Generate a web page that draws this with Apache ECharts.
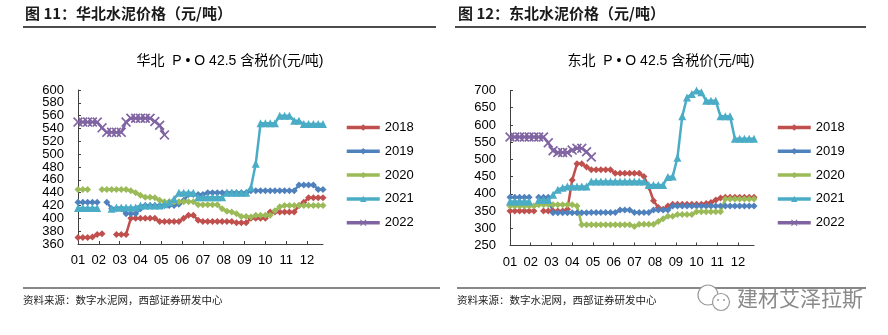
<!DOCTYPE html>
<html>
<head>
<meta charset="utf-8">
<script src="https://cdn.jsdelivr.net/npm/echarts@6/dist/echarts.min.js"></script>
<style>
html,body{margin:0;padding:0;background:#fff}
#c{width:888px;height:335px}
</style>
</head>
<body>
<div id="c"></div>
<script>
// Weekly cement prices (元/吨), one value per week, null = no quote that week
const years = ['2018', '2019', '2020', '2021', '2022'];
const monthLabels = ['01', '02', '03', '04', '05', '06', '07', '08', '09', '10', '11', '12'];

// 华北 P·O 42.5
const huabei2018 = [370,370,370,371,375,376,null,null,375,375,375,400,400,400,400,400,400,395,395,395,395,395,400,405,405,397,395,395,395,395,395,395,395,393,393,393,400,400,400,400,410,410,410,410,410,410,420,425,432,432,432,432];
const huabei2019 = [425,425,425,425,425,null,425,415,415,415,407,407,407,415,420,420,420,420,420,420,420,422,428,437,437,437,437,440,440,440,440,440,440,440,440,440,443,443,443,443,443,443,443,443,443,443,452,452,452,452,445,445];
const huabei2020 = [445,445,445,null,null,445,445,445,445,445,445,443,440,436,433,433,432,428,426,426,426,426,426,426,426,421,421,421,421,421,415,411,410,407,403,403,402,405,405,405,405,412,418,420,420,420,420,420,420,420,420,420];
const huabei2021 = [416,416,416,416,416,null,null,415,417,417,417,417,417,420,420,420,420,420,422,425,430,440,440,440,440,433,433,433,433,433,433,440,440,440,440,440,448,485,548,548,548,548,560,560,560,552,552,547,547,547,547,547];
const huabei2022 = [550,550,550,550,550,541,534,534,534,534,550,556,556,556,556,556,551,545,530];

// 东北 P·O 42.5
const dongbei2018 = [350,350,350,350,350,350,null,350,350,350,350,350,355,440,487,487,478,470,470,470,470,470,460,460,460,460,460,460,450,420,380,360,355,365,370,370,370,370,370,370,370,372,375,382,388,390,390,390,390,390,390,390];
const dongbei2019 = [390,390,390,390,390,null,390,390,390,345,345,345,345,345,345,345,345,346,346,346,346,346,346,353,353,353,346,346,346,346,353,353,353,353,365,365,365,365,365,365,365,365,365,365,365,365,365,365,365,365,365,365];
const dongbei2020 = [365,365,365,365,365,365,368,368,368,368,368,368,368,368,365,310,310,310,310,310,310,310,310,310,310,310,305,312,312,312,312,320,328,335,335,340,340,340,340,348,348,348,348,348,348,385,385,385,385,385,385,385];
const dongbei2021 = [378,378,378,378,378,null,382,382,382,397,412,418,421,421,421,421,421,436,436,436,436,436,436,436,436,436,436,436,436,426,426,426,426,449,450,505,625,680,690,700,695,670,670,670,625,625,625,560,560,560,560,560];
const dongbei2022 = [565,565,565,565,565,565,565,565,548,525,520,520,520,527,532,532,522,507];

const WEEKS = 52;
const WEEKS_PER_MONTH = WEEKS / 12;
const colors = ['#C0504D', '#4F81BD', '#9BBB59', '#4BACC6', '#8064A2'];
const crossPath = 'path://M0,1.2L1.2,0L5,3.8L8.8,0L10,1.2L6.2,5L10,8.8L8.8,10L5,6.2L1.2,10L0,8.8L3.8,5Z';
const symbols = ['diamond', 'diamond', 'diamond', 'triangle', crossPath];
const symbolSizes = [7, 7, 7, 8, 10];

const NUM_FONT = 'Liberation Sans, Arial, Noto Sans CJK SC, sans-serif';
const CJK_FONT = 'Noto Sans CJK SC, Liberation Sans, sans-serif';

function toPoints(arr) {
  return arr.map((v, i) => [i, v == null ? '-' : v]);
}

function monthFormatter(v) {
  const m = Math.round(v / WEEKS_PER_MONTH);
  return Math.abs(v - m * WEEKS_PER_MONTH) < 0.01 && m < 12 ? monthLabels[m] : '';
}

function xAxis(gi) {
  return {
    type: 'value', gridIndex: gi, min: 0, max: WEEKS - 1, interval: WEEKS_PER_MONTH,
    axisLine: { show: true, lineStyle: { color: '#404040', width: 1 } },
    axisTick: { show: true, inside: true, length: 3, lineStyle: { color: '#404040' } },
    axisLabel: { formatter: monthFormatter, showMaxLabel: false, margin: 10, fontSize: 13, color: '#000', fontFamily: NUM_FONT },
    splitLine: { show: false }
  };
}

function yAxis(gi, min, max, step) {
  return {
    type: 'value', gridIndex: gi, min: min, max: max, interval: step,
    axisLine: { show: true, lineStyle: { color: '#404040', width: 1 } },
    axisTick: { show: true, inside: true, length: 3, lineStyle: { color: '#404040' } },
    axisLabel: { margin: 14, fontSize: 13, color: '#000', fontFamily: NUM_FONT },
    splitLine: { show: false }
  };
}

function series(gi, list) {
  return list.map((arr, k) => ({
    type: 'line',
    name: years[k],
    xAxisIndex: gi,
    yAxisIndex: gi,
    data: toPoints(arr),
    symbol: symbols[k],
    symbolSize: symbolSizes[k],
    showSymbol: true,
    connectNulls: false,
    lineStyle: { width: 2.5, color: colors[k] },
    itemStyle: { color: colors[k] },
    emphasis: { disabled: true }
  }));
}

function legend(left) {
  return {
    orient: 'vertical', left: left, top: 120.5, padding: 0,
    itemWidth: 33, itemHeight: 8, itemGap: 9.8,
    lineStyle: { width: 3.5 },
    textStyle: { fontSize: 13, lineHeight: 14, color: '#000', fontFamily: NUM_FONT },
    data: years, selectedMode: false
  };
}

function text(x, y, str, opts) {
  return {
    type: 'text', silent: true,
    style: Object.assign({ x: x, y: y, text: str, fill: '#000', verticalAlign: 'middle', align: 'left', font: '13px ' + CJK_FONT }, opts || {})
  };
}

function hline(x1, x2, y, w) {
  return { type: 'line', silent: true, shape: { x1: x1, y1: y, x2: x2, y2: y }, style: { stroke: '#111', lineWidth: w } };
}

const chart = echarts.init(document.getElementById('c'), null, { renderer: 'canvas' });
chart.setOption({
  animation: false,
  backgroundColor: '#fff',
  grid: [
    { left: 78, top: 90, width: 245, height: 154 },
    { left: 510, top: 90.5, width: 244, height: 155 }
  ],
  xAxis: [xAxis(0), xAxis(1)],
  yAxis: [yAxis(0, 360, 600, 20), yAxis(1, 250, 700, 50)],
  legend: [legend(345), legend(776)],
  series: series(0, [huabei2018, huabei2019, huabei2020, huabei2021, huabei2022])
    .concat(series(1, [dongbei2018, dongbei2019, dongbei2020, dongbei2021, dongbei2022])),
  graphic: [
    text(25, 13.5, '图 11：华北水泥价格（元/吨）', { font: 'bold 15px ' + CJK_FONT, fill: '#1a1a1a' }),
    text(458, 13.5, '图 12：东北水泥价格（元/吨）', { font: 'bold 15px ' + CJK_FONT, fill: '#1a1a1a' }),
    hline(23, 436, 27, 1.6),
    hline(455, 866, 27, 1.6),
    text(230, 61, '华北  P • O 42.5 含税价(元/吨)', { align: 'center', font: '14px ' + NUM_FONT }),
    text(661, 61, '东北  P • O 42.5 含税价(元/吨)', { align: 'center', font: '14px ' + NUM_FONT }),
    hline(23, 440, 288, 1.2),
    hline(457, 866, 288, 1.2),
    text(23, 300, '资料来源：数字水泥网，西部证券研发中心', { font: '10.5px ' + CJK_FONT, fill: '#222' }),
    text(457, 300, '资料来源：数字水泥网，西部证券研发中心', { font: '10.5px ' + CJK_FONT, fill: '#222' }),
    { type: 'circle', silent: true, shape: { cx: 708, cy: 295, r: 10 }, style: { fill: '#fff', stroke: '#9a9a9a', lineWidth: 1.2 } },
    { type: 'circle', silent: true, shape: { cx: 721, cy: 302, r: 8.5 }, style: { fill: '#fff', stroke: '#9a9a9a', lineWidth: 1.2 } },
    { type: 'circle', silent: true, shape: { cx: 718, cy: 300, r: 1 }, style: { fill: '#9a9a9a' } },
    { type: 'circle', silent: true, shape: { cx: 724, cy: 300, r: 1 }, style: { fill: '#9a9a9a' } },
    text(737, 298, '建材艾泽拉斯', { font: '21px ' + CJK_FONT, fill: '#8a8a8a' })
  ]
});
</script>
</body>
</html>
